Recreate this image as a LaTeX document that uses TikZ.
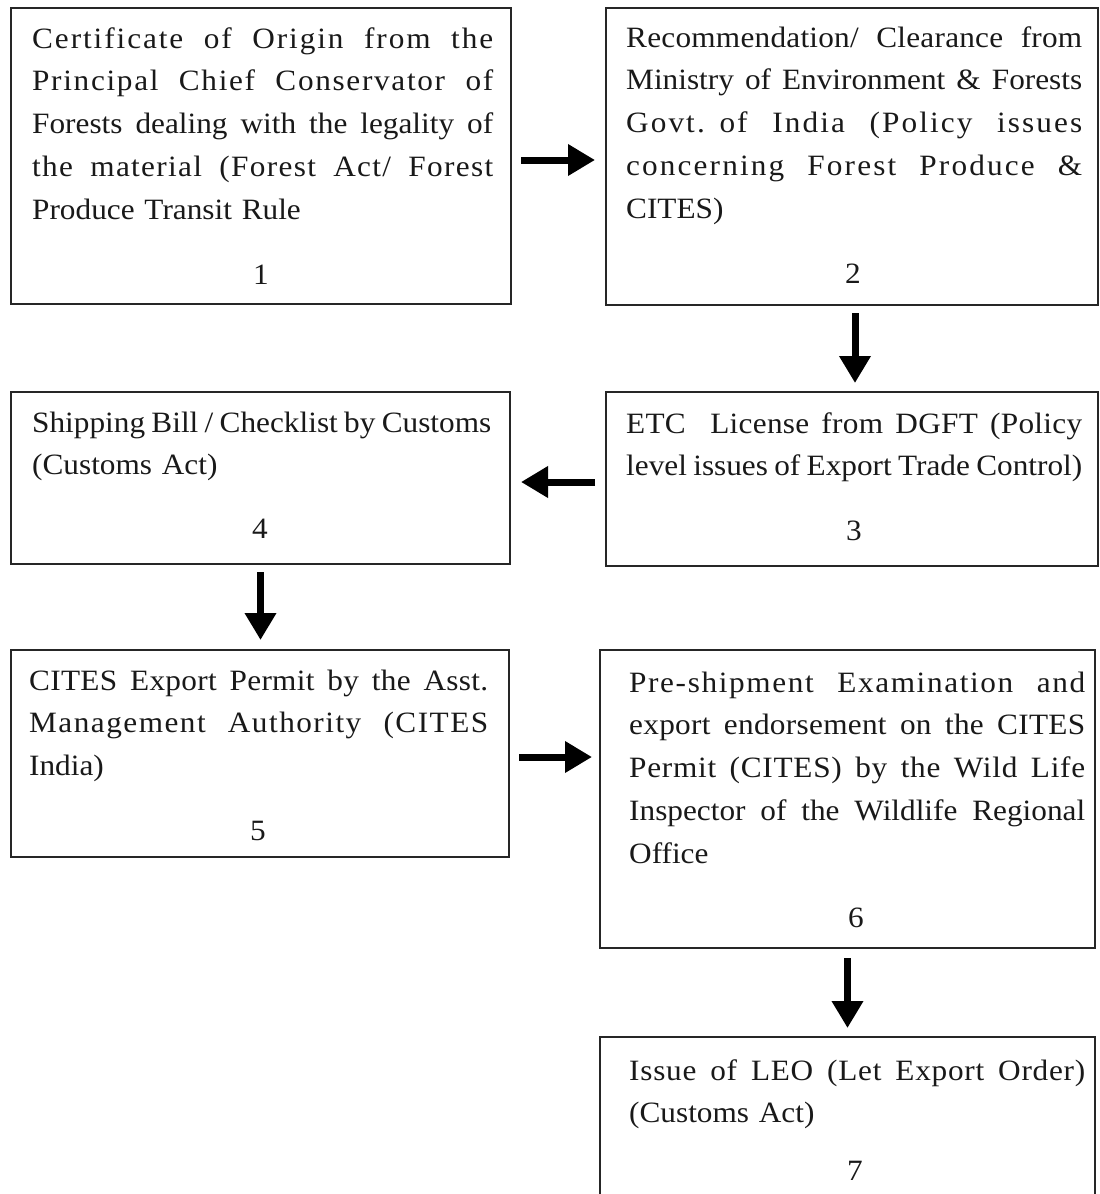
\documentclass[tikz,border=0pt]{standalone}
\usepackage{fontspec}
\setmainfont[FakeStretch=1.06]{Liberation Serif}
\usetikzlibrary{arrows.meta}
\newcommand{\jl}[2][0]{{\addfontfeature{LetterSpace=#1}\spaceskip=0.25em plus 2em minus 0.12em\makebox[\LW][s]{#2}}}
\def\LW{456pt}
\begin{document}
\begin{tikzpicture}[x=1pt,y=-1pt,
  box/.style={draw=black!85, line width=1.8pt, inner sep=0pt, outer sep=0pt, rectangle},
  txt/.style={anchor=north west, inner sep=0pt, align=left, text=black!90, font=\fontsize{29.5}{42.8}\selectfont},
  num/.style={anchor=base, inner sep=0pt, text=black!90, font=\fontsize{29.5}{42.8}\selectfont},
  arr/.style={line width=7pt, black, -{Triangle[length=27pt,width=30pt]}}]
\useasboundingbox (0,0) rectangle (1100,1194);
\fill[white] (0,0) rectangle (1100,1194);
\clip (0,0) rectangle (1100,1194);

% boxes
\node[box, minimum width=500pt, minimum height=296pt] (b1) at (261,156) {};
\node[box, minimum width=492pt, minimum height=297pt] (b2) at (852,156.5) {};
\node[box, minimum width=492pt, minimum height=174pt] (b3) at (852,479) {};
\node[box, minimum width=499pt, minimum height=172pt] (b4) at (260.5,478) {};
\node[box, minimum width=498pt, minimum height=207pt] (b5) at (260,753.5) {};
\node[box, minimum width=495pt, minimum height=298pt] (b6) at (847.5,799) {};
\node[box, minimum width=495pt, minimum height=177pt] (b7) at (847.5,1125.5) {};

% texts
\node[txt, text width=461pt] (t1) at (32,18) {\def\LW{461pt}\strut\jl[6.5]{Certificate of Origin from the}\\
\jl[5.7]{Principal Chief Conservator of}\\
\jl{Forests dealing with the legality of}\\
\jl[4.5]{the material (Forest Act/ Forest}\\
Produce Transit Rule};
\node[txt, text width=456pt] (t2) at (626,17) {\def\LW{456pt}\strut\jl[0.8]{Recommendation/ Clearance from}\\
\jl{Ministry of Environment \& Forests}\\
\jl[7]{Govt. of India (Policy issues}\\
\jl[7.2]{concerning Forest Produce \&}\\
CITES)};
\node[txt, text width=456pt] (t3) at (626,403) {\def\LW{456pt}\strut\jl[1]{ETC\ \ License from DGFT (Policy}\\
\jl{level issues of Export Trade Control)}};
\node[txt, text width=459pt] (t4) at (32,402) {\def\LW{459pt}\strut\jl{Shipping Bill / Checklist by Customs}\\
(Customs Act)};
\node[txt, text width=459pt] (t5) at (29,660) {\def\LW{459pt}\strut\jl[1]{CITES Export Permit by the Asst.}\\
\jl[5]{Management Authority (CITES}\\
India)};
\node[txt, text width=456pt] (t6) at (629,662) {\def\LW{456pt}\strut\jl[5.5]{Pre-shipment Examination and}\\
\jl[1]{export endorsement on the CITES}\\
\jl[2.5]{Permit (CITES) by the Wild Life}\\
\jl{Inspector of the Wildlife Regional}\\
Office};
\node[txt, text width=456pt] (t7) at (629,1050) {\def\LW{456pt}\strut\jl[2.5]{Issue of LEO (Let Export Order)}\\
(Customs Act)};

% numbers
\node[num] (n1) at (261,284) {1};
\node[num] (n2) at (853,283) {2};
\node[num] (n3) at (854,540) {3};
\node[num] (n4) at (260,538) {4};
\node[num] (n5) at (258,840) {5};
\node[num] (n6) at (856,927) {6};
\node[num] (n7) at (855,1180) {7};

% connectors
\coordinate (a12) at ([yshift=-4pt]b1.east);
\draw[arr, shorten <=10pt, shorten >=11pt] (a12) -- (a12 -| b2.west);
\coordinate (a23) at ([xshift=3pt]b2.south);
\draw[arr, shorten <=8pt, shorten >=9pt] (a23) -- (a23 |- b3.north);
\coordinate (a34) at ([yshift=-3pt]b3.west);
\draw[arr, shorten <=11pt, shorten >=11pt] (a34) -- (a34 -| b4.east);
\draw[arr, shorten <=8pt, shorten >=10pt] (b4.south) -- (b4.south |- b5.north);
\coordinate (a56) at ([yshift=-3.5pt]b5.east);
\draw[arr, shorten <=10pt, shorten >=8pt] (a56) -- (a56 -| b6.west);
\draw[arr, shorten <=10pt, shorten >=9pt] (b6.south) -- (b6.south |- b7.north);
\end{tikzpicture}
\end{document}
